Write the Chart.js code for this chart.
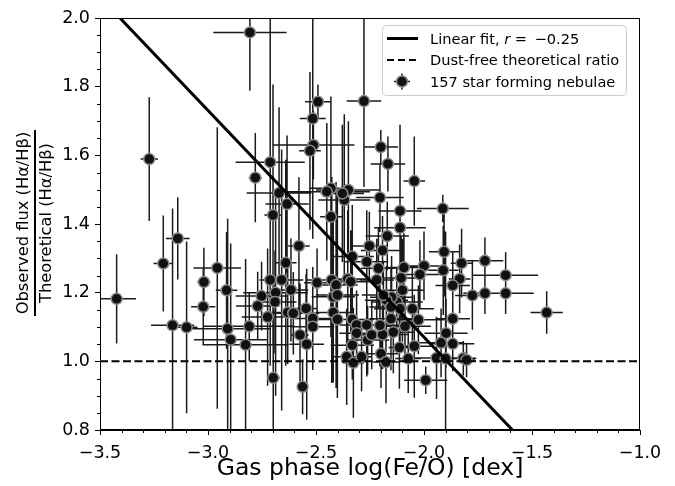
<!DOCTYPE html>
<html>
<head>
<meta charset="utf-8">
<script src="https://cdn.jsdelivr.net/npm/chart.js@4.4.0/dist/chart.umd.min.js"></script>
<style>
  html, body { margin: 0; padding: 0; background: #fff; }
  #wrap { width: 675px; height: 486px; }
</style>
</head>
<body>
<div id="wrap"><canvas id="feoChart" width="675" height="486"></canvas></div>
<script>
// gas phase log(Fe/O) of each nebula and its error (dex)
const feO = [
  -3.423, -3.272, -3.207, -3.140, -3.164, -3.099, -3.019, -3.022, -2.957, -2.914,
  -2.909, -2.895, -2.809, -2.826, -2.806, -2.698, -2.712, -2.781, -2.671, -2.699,
  -2.712, -2.752, -2.770, -2.724, -2.687, -2.690, -2.659, -2.616, -2.631, -2.640,
  -2.579, -2.634, -2.546, -2.515, -2.515, -2.574, -2.543, -2.562, -2.495, -2.431,
  -2.427, -2.407, -2.420, -2.401, -2.420, -2.401, -2.332, -2.353, -2.339, -2.332,
  -2.312, -2.312, -2.332, -2.358, -2.327, -2.289, -2.265, -2.253, -2.265, -2.261,
  -2.242, -2.211, -2.219, -2.491, -2.515, -2.512, -2.528, -2.278, -2.431, -2.450,
  -2.350, -2.369, -2.378, -2.200, -2.167, -2.045, -2.204, -2.111, -1.913, -2.170,
  -2.111, -2.192, -2.093, -2.106, -2.100, -2.000, -2.019, -1.907, -1.911, -1.826,
  -1.835, -1.867, -1.718, -1.622, -1.776, -1.718, -1.622, -1.432, -1.867, -1.898,
  -1.921, -1.867, -1.942, -1.900, -1.818, -1.803, -1.992, -2.045, -2.073, -2.114,
  -2.142, -2.088, -2.026, -2.054, -2.126, -2.150, -2.111, -2.153, -2.192, -2.199,
  -2.176, -2.174, -2.153, -2.204, -2.605, -2.188
];
const feOErr = [
  0.09, 0.04, 0.045, 0.055, 0.10, 0.05, 0.03, 0.056, 0.11, 0.05,
  0.20, 0.17, 0.21, 0.20, 0.17, 0.03, 0.16, 0.03, 0.15, 0.04,
  0.05, 0.12, 0.10, 0.12, 0.15, 0.10, 0.10, 0.08, 0.10, 0.05,
  0.05, 0.10, 0.05, 0.10, 0.10, 0.04, 0.08, 0.02, 0.06, 0.05,
  0.12, 0.10, 0.10, 0.10, 0.08, 0.10, 0.10, 0.10, 0.10, 0.10,
  0.08, 0.08, 0.10, 0.06, 0.05, 0.05, 0.10, 0.08, 0.10, 0.10,
  0.08, 0.08, 0.08, 0.06, 0.06, 0.19, 0.05, 0.08, 0.10, 0.20,
  0.15, 0.12, 0.10, 0.08, 0.08, 0.05, 0.11, 0.10, 0.12, 0.10,
  0.12, 0.10, 0.08, 0.10, 0.10, 0.08, 0.10, 0.07, 0.07, 0.05,
  0.05, 0.08, 0.085, 0.15, 0.08, 0.10, 0.13, 0.075, 0.08, 0.10,
  0.10, 0.10, 0.10, 0.05, 0.06, 0.04, 0.10, 0.08, 0.06, 0.05,
  0.10, 0.12, 0.12, 0.10, 0.12, 0.10, 0.12, 0.10, 0.12, 0.08,
  0.06, 0.10, 0.10, 0.10, 0.12, 0.10
];
// observed / theoretical Halpha/Hbeta and its error
const balmerRatio = [
  1.182, 1.589, 1.285, 1.358, 1.105, 1.099, 1.231, 1.159, 1.272, 1.207,
  1.095, 1.063, 1.102, 1.048, 1.958, 0.952, 1.580, 1.535, 1.490, 1.426,
  1.237, 1.190, 1.161, 1.129, 1.200, 1.173, 1.237, 1.208, 1.142, 1.287,
  1.336, 1.458, 1.154, 1.125, 1.101, 1.077, 1.050, 0.926, 1.229, 1.421,
  1.237, 1.222, 1.188, 1.193, 1.142, 1.122, 1.305, 1.240, 1.232, 1.122,
  1.106, 1.082, 1.047, 1.013, 0.996, 1.013, 1.290, 1.336, 1.106, 1.062,
  1.077, 1.271, 1.237, 1.756, 1.707, 1.630, 1.613, 1.758, 1.504, 1.494,
  1.499, 1.470, 1.489, 1.624, 1.575, 1.525, 1.477, 1.438, 1.445, 1.365,
  1.389, 1.323, 1.273, 1.243, 1.207, 1.278, 1.253, 1.319, 1.265, 1.286,
  1.240, 1.221, 1.293, 1.251, 1.192, 1.198, 1.198, 1.142, 1.124, 1.082,
  1.054, 1.051, 1.010, 1.008, 1.009, 1.004, 0.945, 1.044, 1.008, 1.040,
  1.085, 1.102, 1.121, 1.153, 1.173, 1.187, 1.153, 1.124, 1.078, 1.022,
  0.998, 1.178, 1.158, 1.105, 1.140, 1.193
];
const balmerRatioErr = [
  0.13, 0.18, 0.14, 0.12, 0.34, 0.25, 0.10, 0.11, 0.41, 0.17,
  0.32, 0.28, 0.10, 0.25, 0.17, 0.20, 0.45, 0.13, 0.25, 0.38,
  0.25, 0.10, 0.10, 0.20, 0.30, 0.15, 0.38, 0.15, 0.15, 0.30,
  0.20, 0.20, 0.10, 0.15, 0.10, 0.15, 0.22, 0.08, 0.10, 0.35,
  0.30, 0.30, 0.25, 0.30, 0.20, 0.20, 0.15, 0.20, 0.15, 0.12,
  0.10, 0.10, 0.10, 0.14, 0.16, 0.10, 0.15, 0.10, 0.15, 0.10,
  0.10, 0.12, 0.12, 0.05, 0.35, 0.10, 0.23, 0.25, 0.17, 0.20,
  0.20, 0.25, 0.20, 0.05, 0.08, 0.13, 0.10, 0.20, 0.04, 0.10,
  0.30, 0.10, 0.10, 0.12, 0.15, 0.10, 0.10, 0.13, 0.13, 0.10,
  0.10, 0.10, 0.068, 0.067, 0.10, 0.06, 0.06, 0.062, 0.06, 0.10,
  0.10, 0.08, 0.12, 0.37, 0.05, 0.05, 0.04, 0.15, 0.10, 0.12,
  0.12, 0.10, 0.10, 0.12, 0.10, 0.12, 0.10, 0.15, 0.10, 0.10,
  0.12, 0.10, 0.10, 0.12, 0.12, 0.10
];

// linear fit and dust-free reference line
const fitX = [-3.5, -1.0];
const fitY = [2.061, 0.410];
const dustFreeX = [-3.5, -1.0];
const dustFreeY = [1.0, 1.0];

const xTicks = [-3.5, -3.0, -2.5, -2.0, -1.5, -1.0];
const yTicks = [0.8, 1.0, 1.2, 1.4, 1.6, 1.8, 2.0];

const legendLabels = ['Linear fit, ', 'Dust-free theoretical ratio', '157 star forming nebulae'];
const yTitleTop = 'Observed flux (H\u03b1/H\u03b2)';
const yTitleBottom = 'Theoretical (H\u03b1/H\u03b2)';

const FONT = '"DejaVu Sans", sans-serif';

const fmt = v => Number(v).toFixed(1).replace('-', '\u2212');

const errorBars = {
  id: 'errorBars',
  beforeDatasetsDraw(chart) {
    const { ctx, chartArea: a, scales: { x, y } } = chart;
    ctx.save();
    ctx.beginPath();
    ctx.rect(a.left, a.top, a.right - a.left, a.bottom - a.top);
    ctx.clip();
    ctx.strokeStyle = '#1a1a1a';
    ctx.lineWidth = 1.5;
    ctx.beginPath();
    for (let i = 0; i < feO.length; i++) {
      const px = x.getPixelForValue(feO[i]);
      const py = y.getPixelForValue(balmerRatio[i]);
      ctx.moveTo(x.getPixelForValue(feO[i] - feOErr[i]), py);
      ctx.lineTo(x.getPixelForValue(feO[i] + feOErr[i]), py);
      ctx.moveTo(px, y.getPixelForValue(balmerRatio[i] - balmerRatioErr[i]));
      ctx.lineTo(px, y.getPixelForValue(balmerRatio[i] + balmerRatioErr[i]));
    }
    ctx.stroke();
    ctx.restore();
  }
};

function drawMarker(ctx, cx, cy) {
  ctx.beginPath();
  ctx.arc(cx, cy, 5.5, 0, Math.PI * 2);
  ctx.fillStyle = '#111';
  ctx.fill();
  ctx.lineWidth = 1.5;
  ctx.strokeStyle = '#8a8a8a';
  ctx.stroke();
}

const decorations = {
  id: 'decorations',
  afterDraw(chart) {
    const { ctx, chartArea: a, scales: { x, y } } = chart;
    ctx.save();

    // frame
    ctx.strokeStyle = '#000';
    ctx.lineWidth = 1;
    ctx.strokeRect(a.left + 0.5, a.top + 0.5, a.right - a.left - 1, a.bottom - a.top - 1);

    // minor ticks
    ctx.beginPath();
    for (let k = -35; k <= -10; k++) {
      if (k % 5 === 0) continue;
      const px = Math.round(x.getPixelForValue(k / 10)) + 0.5;
      ctx.moveTo(px, a.bottom);
      ctx.lineTo(px, a.bottom + 3);
    }
    for (let k = 16; k <= 40; k++) {
      if (k % 4 === 0) continue;
      const py = Math.round(y.getPixelForValue(k / 20)) + 0.5;
      ctx.moveTo(a.left, py);
      ctx.lineTo(a.left - 3, py);
    }
    ctx.stroke();

    // y axis title as a fraction
    ctx.translate(35, 223);
    ctx.rotate(-Math.PI / 2);
    ctx.fillStyle = '#000';
    ctx.font = '16.3px ' + FONT;
    ctx.textAlign = 'center';
    ctx.textBaseline = 'alphabetic';
    ctx.fillText(yTitleTop, 0, -7);
    ctx.fillText(yTitleBottom, 0, 16);
    ctx.fillRect(-93, -1, 186, 2);
    ctx.setTransform(1, 0, 0, 1, 0, 0);

    // legend
    const lx = 382.5, ly = 25.5, lw = 244, lh = 70;
    ctx.beginPath();
    ctx.roundRect(lx, ly, lw, lh, 4);
    ctx.fillStyle = 'rgba(255,255,255,0.8)';
    ctx.fill();
    ctx.strokeStyle = '#cccccc';
    ctx.lineWidth = 1;
    ctx.stroke();

    const rows = [38.5, 60, 81.5];
    ctx.strokeStyle = '#000';
    ctx.lineWidth = 3;
    ctx.beginPath();
    ctx.moveTo(387, rows[0]);
    ctx.lineTo(418, rows[0]);
    ctx.stroke();
    ctx.lineWidth = 2;
    ctx.setLineDash([7, 4]);
    ctx.beginPath();
    ctx.moveTo(387, rows[1]);
    ctx.lineTo(418, rows[1]);
    ctx.stroke();
    ctx.setLineDash([]);
    ctx.beginPath();
    ctx.moveTo(394, rows[2]);
    ctx.lineTo(410, rows[2]);
    ctx.moveTo(402, rows[2] - 8);
    ctx.lineTo(402, rows[2] + 8);
    ctx.lineWidth = 1.5;
    ctx.strokeStyle = '#1a1a1a';
    ctx.stroke();
    drawMarker(ctx, 402, rows[2]);

    ctx.fillStyle = '#000';
    ctx.textAlign = 'left';
    ctx.textBaseline = 'alphabetic';
    ctx.font = '14.6px ' + FONT;
    let tx = 430;
    ctx.fillText(legendLabels[0], tx, rows[0] + 5);
    tx += ctx.measureText(legendLabels[0]).width;
    ctx.font = 'italic 14.6px ' + FONT;
    ctx.fillText('r', tx, rows[0] + 5);
    tx += ctx.measureText('r').width;
    ctx.font = '14.6px ' + FONT;
    ctx.fillText(' = \u2009\u22120.25', tx, rows[0] + 5);
    ctx.fillText(legendLabels[1], 430, rows[1] + 5);
    ctx.fillText(legendLabels[2], 430, rows[2] + 5);

    ctx.restore();
  }
};

const points = feO.map((v, i) => ({ x: v, y: balmerRatio[i] }));

new Chart(document.getElementById('feoChart'), {
  type: 'scatter',
  data: {
    datasets: [
      {
        label: 'Linear fit',
        type: 'line',
        data: fitX.map((v, i) => ({ x: v, y: fitY[i] })),
        borderColor: '#000',
        borderWidth: 3,
        pointRadius: 0,
        order: 0
      },
      {
        label: 'Dust-free theoretical ratio',
        type: 'line',
        data: dustFreeX.map((v, i) => ({ x: v, y: dustFreeY[i] })),
        borderColor: '#000',
        borderWidth: 2,
        borderDash: [8, 3.5],
        pointRadius: 0,
        order: 1
      },
      {
        label: '157 star forming nebulae',
        data: points,
        pointRadius: 5.5,
        pointBackgroundColor: '#111',
        pointBorderColor: '#8a8a8a',
        pointBorderWidth: 1.5,
        order: 2
      }
    ]
  },
  options: {
    responsive: false,
    animation: false,
    devicePixelRatio: 1,
    layout: { padding: { top: 18, right: 35, left: 0, bottom: 0 } },
    plugins: {
      legend: { display: false },
      tooltip: { enabled: false }
    },
    scales: {
      x: {
        type: 'linear',
        min: -3.5,
        max: -1.0,
        afterBuildTicks: axis => { axis.ticks = xTicks.map(v => ({ value: v })); },
        afterFit: axis => { axis.height = 56; },
        ticks: {
          callback: fmt,
          color: '#000',
          font: { family: FONT, size: 17.5 },
          padding: 8,
          maxRotation: 0
        },
        grid: { drawOnChartArea: false, drawTicks: true, tickLength: 5, color: '#000' },
        border: { display: true, color: '#000' },
        title: {
          display: true,
          text: 'Gas phase log(Fe/O) [dex]',
          color: '#000',
          font: { family: FONT, size: 23.5 },
          padding: { top: 0, bottom: 3 }
        }
      },
      y: {
        type: 'linear',
        min: 0.8,
        max: 2.0,
        afterBuildTicks: axis => { axis.ticks = yTicks.map(v => ({ value: v })); },
        afterFit: axis => { axis.width = 100; },
        ticks: {
          callback: fmt,
          color: '#000',
          font: { family: FONT, size: 17.5 },
          padding: 5
        },
        grid: { drawOnChartArea: false, drawTicks: true, tickLength: 5, color: '#000' },
        border: { display: true, color: '#000' }
      }
    }
  },
  plugins: [errorBars, decorations]
});
</script>
</body>
</html>
